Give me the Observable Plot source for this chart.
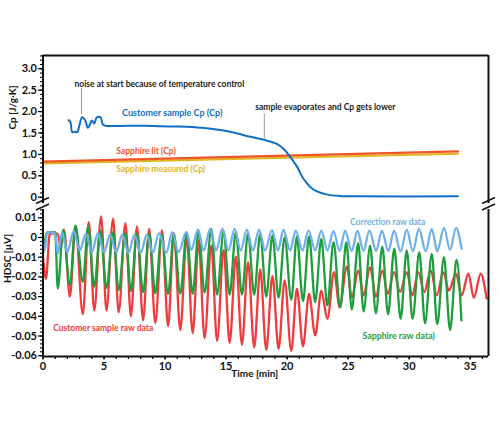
<!DOCTYPE html>
<html><head><meta charset="utf-8">
<script src="https://cdn.jsdelivr.net/npm/d3@7"></script>
<script src="https://cdn.jsdelivr.net/npm/@observablehq/plot@0.6"></script>
<style>
body{margin:0;background:#fff;}
#chart{position:relative;width:500px;height:430px;overflow:hidden;background:#fff;}
#chart svg{position:absolute;left:0;}
</style></head><body><div id="chart"></div>
<script>
// ---------- data ----------
const cpSampleT = [2.1, 2.25, 2.4, 2.6, 2.8, 3.0, 3.2, 3.45, 3.67, 3.85, 4.0, 4.2, 4.4, 4.7, 4.9, 5.1, 7, 9, 11, 13, 14.5, 15.6, 17, 18.1, 19.2, 19.7, 20.2, 20.8, 21.3, 21.9, 22.4, 23.3, 24.3, 26, 34];
const cpSampleV = [1.80, 1.75, 1.52, 1.53, 1.52, 1.70, 1.87, 1.80, 1.62, 1.70, 1.79, 1.72, 1.86, 1.87, 1.70, 1.67, 1.67, 1.665, 1.65, 1.62, 1.57, 1.51, 1.41, 1.34, 1.24, 1.13, 0.96, 0.72, 0.45, 0.24, 0.14, 0.06, 0.03, 0.02, 0.02];
const sapphireLitT = [0, 34];
const sapphireLitV = [0.83, 1.07];
const sapphireMeasT = [0, 34];
const sapphireMeasV = [0.79, 1.015];

const redT = [0,0.25,0.55,1.2,1.45,1.72, 2.2,2.66,3.26,3.75,4.2,4.76,5.2,5.74,6.2,6.75, 7.2,7.7,8.2,8.7,9.2,9.75,10.25,10.72,11.25,11.77, 12.26,12.75,13.24,13.79,14.26,14.8,15.29,15.8,16.3,16.8, 17.3,17.8,18.29,18.8,19.3,19.8,20.34,20.8,21.3,21.8, 22.3,22.8,23.3,23.85,24.3,24.9,25.3,25.84,26.25,26.8, 27.27,27.8,28.25,28.76,29.26,29.8,30.26,30.75,31.24,31.77, 32.26,32.8,33.25,33.84,34.3,34.85,35.3,35.86,36.35];
const redV = [-0.010,-0.021,0.002,0.002,-0.005,0.004, -0.030,0.006,-0.039,0.0078,-0.037,0.0107,-0.037,0.0095,-0.038,0.0073, -0.040,0.0056,-0.042,0.0044,-0.0435,0.0036,-0.045,0.0022,-0.047,0.0008, -0.0486,-0.0019,-0.051,-0.0041,-0.0525,-0.0063,-0.0535,-0.0096,-0.0545,-0.0125, -0.0557,-0.0162,-0.057,-0.0195,-0.0565,-0.0218,-0.0576,-0.026,-0.0552,-0.0286, -0.0497,-0.027,-0.0413,-0.0176,-0.0354,-0.0147,-0.0305,-0.0167,-0.0294,-0.0151, -0.030,-0.0167,-0.0286,-0.0176,-0.0277,-0.0176,-0.0294,-0.0176,-0.0277,-0.0167, -0.0294,-0.0176,-0.0269,-0.0184,-0.0294,-0.0184,-0.0306,-0.0184,-0.031];

const greenT = [0,0.35,1.0,1.21,1.65, 2.2,2.66,3.26,3.7,4.2,4.7,5.2,5.74,6.2,6.75, 7.2,7.7,8.2,8.7,9.2,9.72,10.25,10.72,11.25,11.77, 12.26,12.75,13.24,13.79,14.26,14.8,15.29,15.8,16.3,16.8, 17.3,17.8,18.29,18.8,19.3,19.8,20.34,20.8,21.3,21.8, 22.3,22.8,23.3,23.8,24.35,24.85,25.3,25.82,26.27,26.8, 27.27,27.8,28.27,28.78,29.3,29.8,30.28,30.83,31.3,31.85, 32.3,32.85,33.35,33.88,34.28];
const greenV = [-0.009,0.0027,0.0027,-0.026,0.0039, -0.024,0.006,-0.0225,0.0056,-0.025,0.0036,-0.0256,0.0027,-0.0266,0.0022, -0.0272,0.0019,-0.0278,0.0019,-0.0283,0.0015,-0.0286,0.0019,-0.0286,0.0027, -0.0286,0.0032,-0.028,0.0044,-0.029,0.0032,-0.029,0.0027,-0.029,0.0022, -0.029,0.0019,-0.030,0.001,-0.0306,0.0002,-0.0316,0.0005,-0.0323,0.0005, -0.0328,-0.0007,-0.0345,-0.0024,-0.0354,-0.0024,-0.0365,-0.0029,-0.0375,-0.0041, -0.0385,-0.0046,-0.039,-0.0057,-0.0413,-0.0066,-0.0413,-0.0075,-0.0435,-0.0083, -0.044,-0.010,-0.047,-0.0113,-0.042];

const corrT = [0,0.12,0.35,1.0,1.2, 1.57,1.98,2.52,3.0,3.53,4.0,4.5,5.0,5.5,6.0, 6.5,7.0,7.5,8.0,8.5,9.0,9.5,10.1,10.6,11.1, 11.75,12.15,12.7,13.16,13.7,14.17,14.7,15.2,15.7,16.2, 16.7,17.2,17.7,18.2,18.76,19.25,19.7,20.25,20.7,21.26, 21.75,22.3,22.8,23.3,23.8,24.3,24.75,25.3,25.76,26.25, 26.74,27.3,27.76,28.3,28.76,29.3,29.8,30.3,30.8,31.36, 31.85,32.3,32.85,33.35,33.84,34.3];
const corrV = [-0.0015,-0.0066,0.0027,0.002,-0.0083, 0.0027,-0.0075,0.0032,-0.0066,0.0019,-0.0075,0.0022,-0.0075,0.0015,-0.0075, 0.0015,-0.0078,0.0015,-0.0078,0.0015,-0.0078,0.0022,-0.0078,0.0027,-0.0075, 0.0027,-0.0063,0.004,-0.0066,0.0044,-0.0066,0.0044,-0.0066,0.0044,-0.0066, 0.004,-0.0066,0.004,-0.0066,0.0037,-0.0066,0.004,-0.0066,0.0035,-0.0066, 0.0035,-0.0066,0.0035,-0.0066,0.0032,-0.0069,0.0035,-0.0069,0.0035,-0.0069, 0.0035,-0.0069,0.0035,-0.0069,0.0035,-0.0072,0.004,-0.0069,0.0044,-0.0069, 0.0044,-0.0069,0.0049,-0.0063,0.0049,-0.0058];

const cpTicks = [0, 0.5, 1.0, 1.5, 2.0, 2.5, 3.0];
const hdscTicks = [-0.06, -0.05, -0.04, -0.03, -0.02, -0.01, 0, 0.01];
const timeTicks = [0, 5, 10, 15, 20, 25, 30, 35];
const cpSeriesNames = ["Customer sample Cp (Cp)", "Sapphire lit (Cp)", "Sapphire measured (Cp)"];
const hdscSeriesNames = ["Customer sample raw data", "Sapphire raw data)", "Correction raw data"];
const noteTexts = ["noise at start because of temperature control", "sample evaporates and Cp gets lower"];
const axisTitles = ["Cp [J/g·K]", "HDSC [μV]", "Time [min]"];

// ---------- build ----------
const pts = (T, V) => T.map((t, i) => ({t, v: V[i]}));
const C_BLUE = "#1170c4", C_ORANGE = "#ef5424", C_GOLD = "#e2b623";
const C_RED = "#ef3b3b", C_GREEN = "#1f9e3c", C_LBLUE = "#70b0e8";
const FONT = "Lato, 'Open Sans', sans-serif";
const XDOM = [0, 36.5];
const CPDOM = [-0.147, 3.31];
const HDOM = [-0.0604, 0.0142];
const fmtCp = d => d === 0 ? "0" : d.toFixed(1);
const fmtH = d => Math.abs(d) < 1e-9 ? "0" : d.toFixed(2);
const cpMinor = d3.range(-1, 34).map(i => i / 10);
const hMinor = d3.range(-30, 8).map(i => i * 0.002);
const tMinor = d3.range(0, 37);
const txt = {fontFamily: FONT, fontWeight: "bold"};

const topChart = Plot.plot({
  width: 500, height: 203,
  marginLeft: 42.5, marginRight: 12, marginTop: 55, marginBottom: 0,
  x: {domain: XDOM, axis: null},
  y: {domain: CPDOM, axis: null},
  style: {fontFamily: FONT, fontWeight: "bold", background: "transparent", overflow: "visible"},
  marks: [
    Plot.axisY({ticks: cpMinor, tickSize: 2.5, tickFormat: () => "", label: null, strokeWidth: 1.1}),
    Plot.axisY({ticks: cpTicks, tickSize: 4.5, tickPadding: 1.5, tickFormat: fmtCp, label: null, fontSize: 11, fill: "#111", strokeWidth: 1.2}),
    Plot.text([axisTitles[0]], {frameAnchor: "left", rotate: -90, dx: -30.5, text: d => d, fontSize: 10, ...txt, fill: "#111"}),
    Plot.line(pts(sapphireMeasT, sapphireMeasV), {x: "t", y: "v", stroke: C_GOLD, strokeWidth: 2.2}),
    Plot.line(pts(sapphireLitT, sapphireLitV), {x: "t", y: "v", stroke: C_ORANGE, strokeWidth: 2.2}),
    Plot.line(pts(cpSampleT, cpSampleV), {x: "t", y: "v", stroke: C_BLUE, strokeWidth: 2, curve: "catmull-rom"}),
    Plot.ruleX([3.15], {y1: 1.93, y2: 2.54, stroke: "#9a9a9a", strokeWidth: 1}),
    Plot.ruleX([18.13], {y1: 1.36, y2: 1.95, stroke: "#9a9a9a", strokeWidth: 1}),
    Plot.text([noteTexts[0]], {x: 2.58, y: 2.63, text: d => d, textAnchor: "start", fill: "#222", fontSize: 8.5, ...txt}),
    Plot.text([noteTexts[1]], {x: 17.39, y: 2.09, text: d => d, textAnchor: "start", fill: "#222", fontSize: 8.5, ...txt}),
    Plot.text([cpSeriesNames[0]], {x: 6.48, y: 1.97, text: d => d, textAnchor: "start", fill: C_BLUE, fontSize: 9, ...txt}),
    Plot.text([cpSeriesNames[1]], {x: 6.01, y: 1.07, text: d => d, textAnchor: "start", fill: C_ORANGE, fontSize: 8.5, ...txt}),
    Plot.text([cpSeriesNames[2]], {x: 6.01, y: 0.66, text: d => d, textAnchor: "start", fill: C_GOLD, fontSize: 8.5, ...txt}),
    Plot.ruleX([XDOM[0]], {stroke: "#111", strokeWidth: 2}),
    Plot.ruleX([XDOM[1]], {stroke: "#111", strokeWidth: 2}),
    Plot.ruleY([CPDOM[1]], {stroke: "#111", strokeWidth: 2})
  ]
});

const bottomChart = Plot.plot({
  width: 500, height: 221,
  marginLeft: 42.5, marginRight: 12, marginTop: 0, marginBottom: 74,
  x: {domain: XDOM, axis: null},
  y: {domain: HDOM, axis: null},
  style: {fontFamily: FONT, fontWeight: "bold", background: "transparent", overflow: "visible"},
  marks: [
    Plot.axisY({ticks: hMinor, tickSize: 2.5, tickFormat: () => "", label: null, strokeWidth: 1.1}),
    Plot.axisY({ticks: hdscTicks, tickSize: 4.5, tickPadding: 1.5, tickFormat: fmtH, label: null, fontSize: 11, fill: "#111", strokeWidth: 1.2}),
    Plot.axisX({ticks: tMinor, tickSize: 3, tickFormat: () => "", label: null, strokeWidth: 1.2}),
    Plot.axisX({ticks: timeTicks, tickSize: 3.5, tickPadding: 2.5, tickFormat: d => String(d), label: null, fontSize: 11, fill: "#111", strokeWidth: 1.2}),
    Plot.text([axisTitles[1]], {frameAnchor: "left", rotate: -90, dx: -35, text: d => d, fontSize: 10, ...txt, fill: "#111"}),
    Plot.text([axisTitles[2]], {x: 17.35, frameAnchor: "bottom", dy: 20, text: d => d, fontSize: 10, ...txt, fill: "#111"}),
    Plot.line(pts(redT, redV), {x: "t", y: "v", stroke: C_RED, strokeWidth: 2.3, curve: "monotone-x"}),
    Plot.line(pts(greenT, greenV), {x: "t", y: "v", stroke: C_GREEN, strokeWidth: 2.3, curve: "monotone-x"}),
    Plot.line(pts(corrT, corrV), {x: "t", y: "v", stroke: C_LBLUE, strokeWidth: 2.3, curve: "monotone-x"}),
    Plot.text([hdscSeriesNames[0]], {x: 0.83, y: -0.0463, text: d => d, textAnchor: "start", fill: C_RED, fontSize: 8.5, ...txt}),
    Plot.text([hdscSeriesNames[1]], {x: 26.17, y: -0.0503, text: d => d, textAnchor: "start", fill: C_GREEN, fontSize: 8.8, ...txt}),
    Plot.text([hdscSeriesNames[2]], {x: 25.16, y: 0.0078, text: d => d, textAnchor: "start", fill: C_LBLUE, fontSize: 8.5, ...txt}),
    Plot.ruleX([XDOM[0]], {stroke: "#111", strokeWidth: 2}),
    Plot.ruleX([XDOM[1]], {stroke: "#111", strokeWidth: 2}),
    Plot.ruleY([HDOM[0]], {stroke: "#111", strokeWidth: 2})
  ]
});

const chart = document.getElementById("chart");
topChart.style.top = "0px";
bottomChart.style.top = "209px";
chart.appendChild(topChart);
chart.appendChild(bottomChart);

// axis-break marks (decoration)
const brk = d3.create("svg").attr("width", 500).attr("height", 430).style("top", "0px").style("pointer-events", "none");
for (const x of [42.5, 488.5]) {
  for (const y of [200.5, 207]) {
    brk.append("line").attr("x1", x - 6.5).attr("y1", y + 3).attr("x2", x + 6.5).attr("y2", y - 3)
      .attr("stroke", "#111").attr("stroke-width", 1.4);
  }
}
chart.appendChild(brk.node());
</script></body></html>
